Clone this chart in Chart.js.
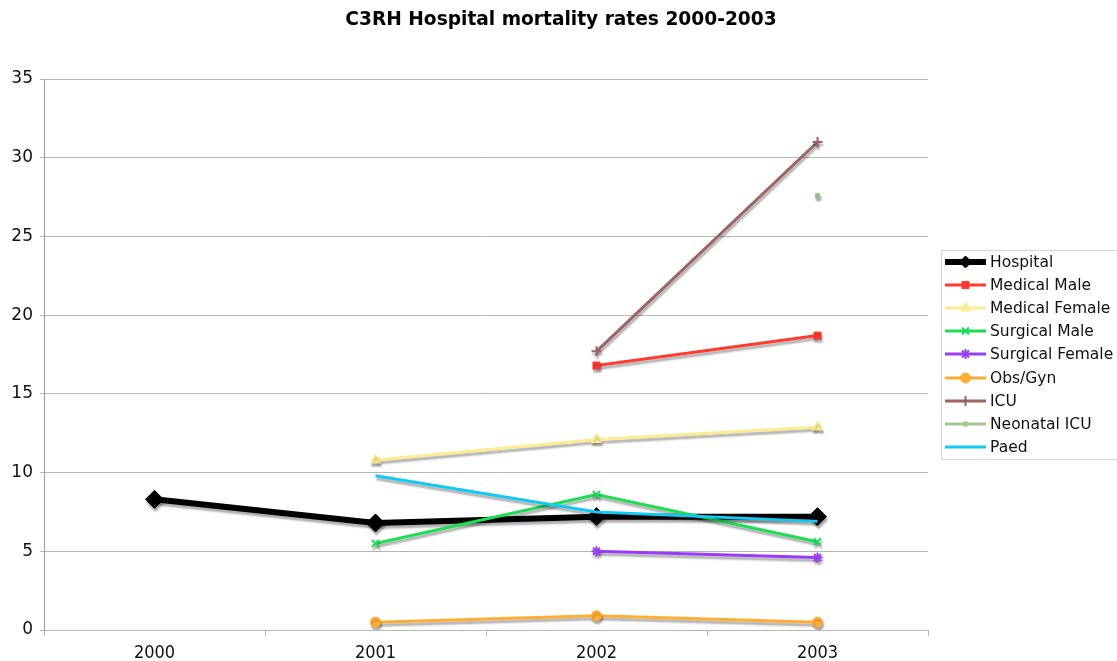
<!DOCTYPE html>
<html>
<head>
<meta charset="utf-8">
<script src="https://cdn.jsdelivr.net/npm/chart.js@4/dist/chart.umd.min.js"></script>
<style>
  html, body { margin: 0; padding: 0; background: #fff; }
  #wrap { width: 1117px; height: 661px; }
</style>
</head>
<body>
<div id="wrap"><canvas id="c" width="1117" height="661"></canvas></div>
<script>
// Years on the category axis
const years = ['2000', '2001', '2002', '2003'];

// Mortality rates (%) per unit; null = no figure for that year
const hospital       = [8.3, 6.8, 7.2, 7.2];
const medicalMale    = [null, null, 16.8, 18.7];
const medicalFemale  = [null, 10.8, 12.1, 12.9];
const surgicalMale   = [null, 5.5, 8.6, 5.6];
const surgicalFemale = [null, null, 5.0, 4.6];
const obsGyn         = [null, 0.5, 0.9, 0.5];
const icu            = [null, null, 17.7, 31.0];
const neonatalIcu    = [null, null, null, 27.6];
const paed           = [null, 9.8, 7.5, 6.9];

// Value axis ticks
const yTicks = [0, 5, 10, 15, 20, 25, 30, 35];

const chartTitle = 'C3RH Hospital mortality rates 2000-2003';

const seriesDefs = [
  { label: 'Hospital',        data: hospital,       color: '#000000', width: 6, point: 'rectRot',  r: 9 },
  { label: 'Medical Male',    data: medicalMale,    color: '#ff3a2f', width: 3, point: 'rect',     r: 5 },
  { label: 'Medical Female',  data: medicalFemale,  color: '#fcec92', width: 3, point: 'triangle', r: 6 },
  { label: 'Surgical Male',   data: surgicalMale,   color: '#1fdc55', width: 3, point: 'crossRot', r: 5 },
  { label: 'Surgical Female', data: surgicalFemale, color: '#9a3cf5', width: 3, point: 'star',     r: 5 },
  { label: 'Obs/Gyn',         data: obsGyn,         color: '#ffac33', width: 3, point: 'circle',   r: 5 },
  { label: 'ICU',             data: icu,            color: '#9d6363', width: 3, point: 'cross',    r: 5 },
  { label: 'Neonatal ICU',    data: neonatalIcu,    color: '#9fc98e', width: 3, point: 'rect',     r: 3 },
  { label: 'Paed',            data: paed,           color: '#12c8f5', width: 3, point: 'circle',   r: 0 }
];

const datasets = seriesDefs.map((s, i) => ({
  label: s.label,
  data: s.data,
  borderColor: s.color,
  backgroundColor: s.color,
  borderWidth: s.width,
  pointStyle: s.point,
  pointRadius: s.r,
  pointHoverRadius: s.r,
  pointBorderWidth: s.point === 'crossRot' || s.point === 'cross' || s.point === 'star' ? 2 : 1,
  pointBackgroundColor: s.color,
  pointBorderColor: s.color,
  tension: 0,
  spanGaps: false,
  // later series sit on top of earlier ones
  order: seriesDefs.length - i
}));

// Soft grey drop shadow under each series
const shadowPlugin = {
  id: 'seriesShadow',
  beforeDatasetDraw(chart) {
    const ctx = chart.ctx;
    ctx.save();
    ctx.shadowColor = 'rgba(0,0,0,0.32)';
    ctx.shadowOffsetX = 1;
    ctx.shadowOffsetY = 3;
    ctx.shadowBlur = 2;
  },
  afterDatasetDraw(chart) {
    chart.ctx.restore();
  }
};

// Title centred across the whole canvas
const titlePlugin = {
  id: 'pageTitle',
  afterDraw(chart) {
    const ctx = chart.ctx;
    ctx.save();
    ctx.font = 'bold 18.6px "DejaVu Sans", Verdana, sans-serif';
    ctx.fillStyle = '#000';
    ctx.textAlign = 'center';
    ctx.textBaseline = 'middle';
    ctx.fillText(chartTitle, 561, 20);
    ctx.restore();
  }
};

// Boxed legend on the right with line + marker samples
const sideLegend = {
  id: 'sideLegend',
  afterDraw(chart) {
    const ctx = chart.ctx;
    const firstY = 262, rowH = 23.1, x0 = 941, y0 = 250;
    ctx.save();
    ctx.strokeStyle = '#d6d6d6';
    ctx.lineWidth = 1;
    ctx.strokeRect(x0 + 0.5, y0 + 0.5, 182, 209);
    ctx.font = '15.5px "DejaVu Sans", Verdana, sans-serif';
    ctx.textBaseline = 'middle';
    ctx.textAlign = 'left';
    chart.data.datasets.forEach((ds, i) => {
      const y = Math.round(firstY + i * rowH);
      ctx.strokeStyle = ds.borderColor;
      ctx.fillStyle = ds.backgroundColor;
      ctx.lineWidth = ds.borderWidth;
      ctx.beginPath();
      ctx.moveTo(945, y);
      ctx.lineTo(986, y);
      ctx.stroke();
      if (ds.pointRadius > 0) {
        ctx.lineWidth = ds.pointBorderWidth;
        Chart.helpers.drawPoint(ctx, {
          pointStyle: ds.pointStyle,
          radius: Math.min(ds.pointRadius, 6),
          borderWidth: ds.pointBorderWidth,
          rotation: 0
        }, 965.5, y);
      }
      ctx.fillStyle = '#111';
      ctx.fillText(ds.label, 990, y + 0.5);
    });
    ctx.restore();
  }
};

new Chart(document.getElementById('c'), {
  type: 'line',
  data: { labels: years, datasets },
  plugins: [shadowPlugin, titlePlugin, sideLegend],
  options: {
    responsive: false,
    animation: false,
    layout: { padding: { left: 0, right: 189, top: 79, bottom: 0 } },
    plugins: {
      legend: { display: false },
      tooltip: { enabled: false },
      title: { display: false }
    },
    scales: {
      x: {
        type: 'category',
        offset: true,
        border: { display: true, color: '#b5b5b5', width: 1 },
        grid: { offset: true, drawOnChartArea: false, drawTicks: true, tickLength: 6, color: '#b5b5b5' },
        ticks: {
          color: '#111',
          padding: 7,
          maxRotation: 0,
          font: { family: '"Liberation Sans Narrow", "DejaVu Sans Condensed", sans-serif', size: 18 }
        },
        afterFit(scale) { scale.height = 31; }
      },
      y: {
        min: 0,
        max: 35,
        afterBuildTicks(scale) { scale.ticks = yTicks.map(v => ({ value: v })); },
        border: { display: true, color: '#9a9a9a', width: 1 },
        grid: { color: '#b5b5b5', lineWidth: 1, drawTicks: true, tickLength: 4 },
        ticks: {
          color: '#111',
          padding: 7,
          font: { family: '"DejaVu Sans", Verdana, sans-serif', size: 17 }
        },
        afterFit(scale) { scale.width = 44; }
      }
    }
  }
});
</script>
</body>
</html>
